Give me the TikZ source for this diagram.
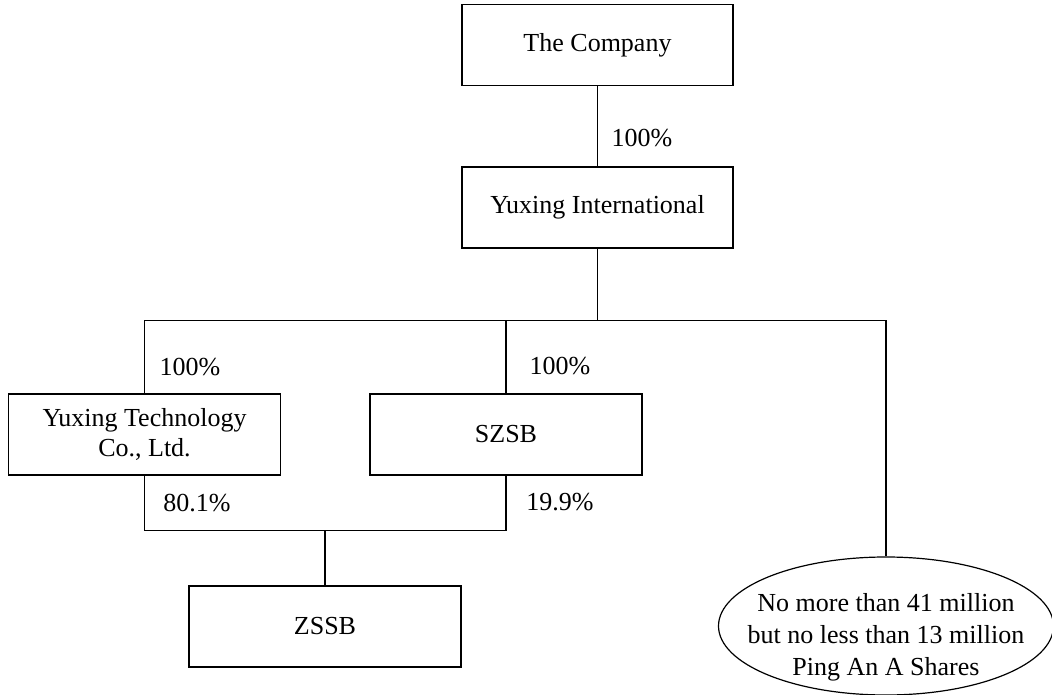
\documentclass[tikz,border=0pt]{standalone}
\usepackage{fontspec}
\setmainfont{Liberation Serif}
\usetikzlibrary{shapes.geometric}
\begin{document}
\begin{tikzpicture}[x=1pt,y=-1pt,
  entity/.style={draw, line width=1.2pt, rectangle, minimum height=81pt, inner sep=0pt, align=center, font=\fontsize{26}{30}\selectfont},
  pct/.style={font=\fontsize{26}{30}\selectfont, inner sep=0pt},
  link/.style={line width=1.2pt}]
\useasboundingbox (0,0) rectangle (1052,695);
\node[entity, minimum width=271pt] (comp) at (597.5,45) {The Company};
\node[entity, minimum width=271pt] (yint) at (597.5,207.5) {Yuxing International};
\node[entity, minimum width=272pt] (ytech) at (144.5,434.5) {Yuxing Technology\\Co., Ltd.};
\node[entity, minimum width=272pt] (szsb) at (506,434.5) {SZSB};
\node[entity, minimum width=272pt] (zssb) at (325,626.5) {ZSSB};
\node[draw, line width=1.2pt, ellipse, minimum width=335pt, minimum height=138pt, inner sep=0pt, font=\fontsize{26}{32}\selectfont] (ell) at (886,626) {\smash{\makebox[0pt]{\raisebox{-17pt}{\begin{tabular}{@{}c@{}}No more than 41 million\\but no less than 13 million\\Ping An A Shares\end{tabular}}}}};
\coordinate (j1) at (597.5,320.5);
\coordinate (jl) at (144.5,320.5);
\coordinate (jm) at (506,320.5);
\coordinate (jr) at (886,320.5);
\coordinate (bl) at (144.5,530.5);
\coordinate (bm) at (325,530.5);
\coordinate (br) at (506,530.5);
\draw[link] (comp.south) -- (yint.north);
\draw[link] (yint.south) -- (j1);
\draw[link] (ytech.north) -- (jl) -- (jr) -- (ell.north);
\draw[link] (jm) -- (szsb.north);
\draw[link] (ytech.south) -- (bl) -- (br) -- (szsb.south);
\draw[link] (bm) -- (zssb.north);
\node[pct] (p0) at (642,138) {100\%};
\node[pct] (p1) at (190,367) {100\%};
\node[pct] (p2) at (560,366) {100\%};
\node[pct] (p3) at (197,503) {80.1\%};
\node[pct] (p4) at (560,502.5) {19.9\%};
\end{tikzpicture}
\end{document}
